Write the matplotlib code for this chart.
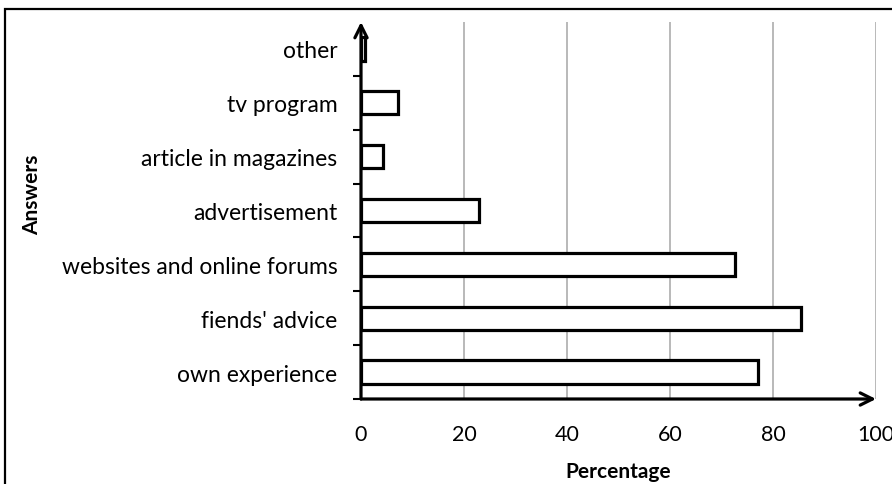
import numpy as np
import matplotlib
matplotlib.use('Agg')
import matplotlib.pyplot as plt
from matplotlib.patches import Rectangle

plt.rcParams['font.family'] = ['Lato', 'DejaVu Sans']

# survey answers, bottom to top
answers = ['own experience', "fiends' advice", 'websites and online forums',
           'advertisement', 'article in magazines', 'tv program', 'other']
percent = [77.1, 85.4, 72.6, 23.0, 4.3, 7.2, 0.8]
xticks = [0, 20, 40, 60, 80, 100]


def main():
    fig = plt.figure(figsize=(8.92, 4.85), dpi=100)
    ax = fig.add_axes([361/892, 85/485, 515/892, 377/485])

    # chart frame, runs off the right and bottom edges
    fig.patches.append(Rectangle((5/892, -0.1), 1.2, 1 - 10/485 + 0.1,
                                 transform=fig.transFigure, fill=False,
                                 edgecolor='black', linewidth=1.6))

    y = np.arange(len(answers))
    ax.barh(y, percent, height=0.43, color='white', edgecolor='black',
            linewidth=2.3, zorder=3)

    ax.set_xlim(0, 100)
    ax.set_ylim(-0.5, len(answers) - 0.5)

    for x in xticks[1:]:
        ax.axvline(x, color='#a6a6a6', linewidth=1.1, zorder=1)

    for s in ax.spines.values():
        s.set_visible(False)

    # axes drawn as arrows
    ax.annotate('', xy=(100, -0.5), xytext=(0, -0.5), xycoords='data',
                arrowprops=dict(arrowstyle='->', lw=2.3, mutation_scale=22,
                                shrinkA=0, shrinkB=0, color='black'),
                annotation_clip=False, zorder=5)
    ax.annotate('', xy=(0, len(answers) - 0.5), xytext=(0, -0.5), xycoords='data',
                arrowprops=dict(arrowstyle='->', lw=2.3, mutation_scale=22,
                                shrinkA=0, shrinkB=0, color='black'),
                annotation_clip=False, zorder=5)

    ax.set_xticks(xticks)
    ax.set_xticklabels([str(v) for v in xticks], fontsize=15.5)
    ax.tick_params(axis='x', length=0, pad=18)

    ax.set_yticks(y)
    ax.set_yticklabels(answers, fontsize=16.5)
    ax.set_yticks(np.arange(-0.5, len(answers) - 1, 1.0), minor=True)
    ax.tick_params(axis='y', which='major', length=0, pad=17)
    ax.tick_params(axis='y', which='minor', length=6, width=1.5, direction='out')

    ax.set_xlabel('Percentage', fontsize=15, fontweight='bold')
    ax.xaxis.label.set_va('center')
    ax.xaxis.set_label_coords(0.5, -72/377)
    fig.text(32/892, 1 - 195/485, 'Answers', rotation=90,
             fontsize=15, fontweight='bold', ha='center', va='center')

    plt.savefig('out.png', dpi=100)


main()
